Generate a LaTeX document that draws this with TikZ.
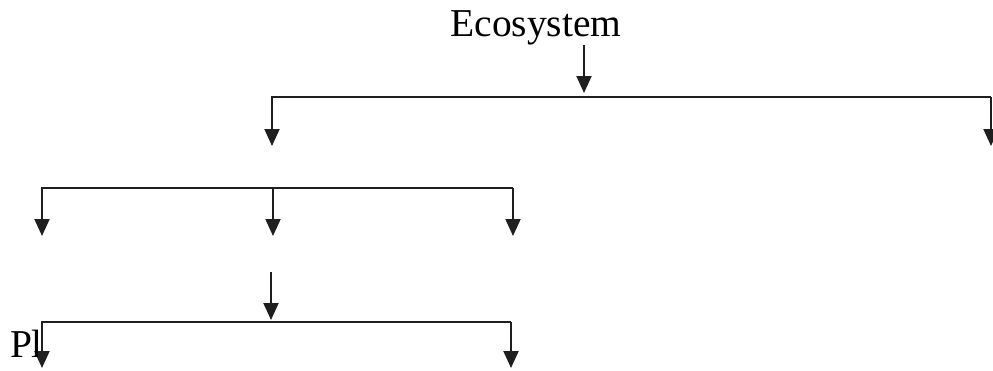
\documentclass[tikz,border=0pt]{standalone}
\usepackage{fontspec}
\setmainfont{Liberation Serif}
\usetikzlibrary{arrows.meta}
\begin{document}
\begin{tikzpicture}[x=1pt,y=-1pt,line width=2pt,color=black!88,
  down/.style={-{Triangle[width=15pt,length=17pt]}},
  label/.style={inner sep=0pt,text=black,font=\fontsize{39.5}{42}\selectfont}]
\useasboundingbox (0,0) rectangle (993,370);
\node[label,anchor=base] (eco) at (536,36) {Ecosystem};
% first level
\coordinate (e0) at (584,45);
\coordinate (e1) at (584,93);
\coordinate (b1l) at (272,97);
\coordinate (b1r) at (991,97);
\coordinate (t1l) at (272,146);
\coordinate (t1r) at (991,146);
\draw[down] (e0)--(e1);
\draw[down] (t1r |- b1r) -- (b1l) -- (t1l);
\draw[down] (b1r)--(t1r);
% second level
\coordinate (b2l) at (42,188);
\coordinate (b2m) at (273,188);
\coordinate (b2r) at (513,188);
\coordinate (t2l) at (42,236);
\coordinate (t2m) at (273,236);
\coordinate (t2r) at (513,236);
\draw[down] (b2r) -- (b2l) -- (t2l);
\draw[down] (b2m)--(t2m);
\draw[down] (b2r)--(t2r);
% third level
\coordinate (p0) at (271,272);
\coordinate (p1) at (271,320);
\coordinate (b3l) at (42,322);
\coordinate (b3r) at (511,322);
\coordinate (t3l) at (42,368);
\coordinate (t3r) at (511,368);
\draw[down] (p0)--(p1);
\draw[down] (b3r) -- (b3l) -- (t3l);
\draw[down] (b3r)--(t3r);
\begin{scope}
\clip (0,300) rectangle (37.5,370);
\node[label,anchor=base west] (pl) at (9,357) {Pl};
\end{scope}
\end{tikzpicture}
\end{document}
